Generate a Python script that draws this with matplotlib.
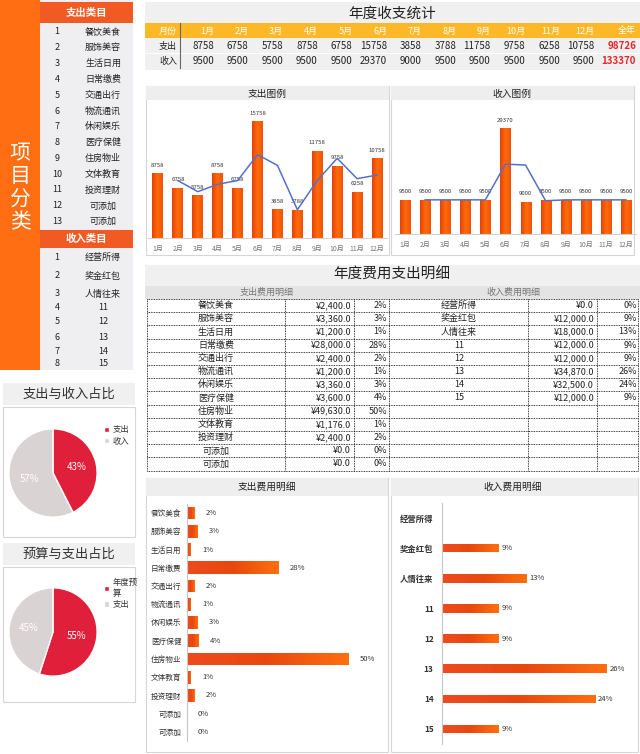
import numpy as np
import matplotlib.pyplot as plt
from matplotlib.colors import LinearSegmentedColormap
from matplotlib.patches import Rectangle

plt.rcParams['font.family'] = ['Noto Sans CJK SC', 'DejaVu Sans']

# ---- data ----
months = ['1月', '2月', '3月', '4月', '5月', '6月', '7月', '8月', '9月', '10月', '11月', '12月']
expense = [8758, 6758, 5758, 8758, 6758, 15758, 3858, 3788, 11758, 9758, 6258, 10758]
income = [9500, 9500, 9500, 9500, 9500, 29370, 9000, 9500, 9500, 9500, 9500, 9500]
expense_trend = [np.nan, 7758, 6258, 7258, 7758, 11258, 9808, 3823, 7773, 10758, 8008, 8508]
income_trend = [np.nan, 9500, 9500, 9500, 9500, 19435, 19185, 9250, 9500, 9500, 9500, 9500]

exp_cats = ['餐饮美食', '服饰美容', '生活日用', '日常缴费', '交通出行', '物流通讯', '休闲娱乐',
            '医疗保健', '住房物业', '文体教育', '投资理财', '可添加', '可添加']
exp_amounts = [2400, 3360, 1200, 28000, 2400, 1200, 3360, 3600, 49630, 1176, 2400, 0, 0]
inc_cats = ['经营所得', '奖金红包', '人情往来', '11', '12', '13', '14', '15']
inc_amounts = [0, 12000, 18000, 12000, 12000, 34870, 32500, 12000]

pie1_labels = ['支出', '收入']
pie1_values = [98726, 133370]
pie2_labels = ['年度预\n算', '支出']
pie2_values = [55, 45]

W, H = 640, 754
fig = plt.figure(figsize=(6.4, 7.54), dpi=100)
bg = fig.add_axes([0, 0, 1, 1])
bg.set_xlim(0, W)
bg.set_ylim(H, 0)
bg.axis('off')

ORANGE = '#FF6E12'
HEAD = '#F15A22'
GOLD = '#FDB827'
RED = '#E0203A'
GREY = '#DAD3D3'
cmap_v = LinearSegmentedColormap.from_list('v', ['#E8400A', '#FF6C0A', '#F25208'])
cmap_h = LinearSegmentedColormap.from_list('h', ['#EE4A1E', '#E8480E', '#FF6E10'])


def rect(x, y, w, h, fc='none', ec='none', lw=0, ls='-', z=1):
    bg.add_patch(Rectangle((x, y), w, h, fc=fc, ec=ec, lw=lw, ls=ls, zorder=z))


def txt(x, y, s, size=6.5, color='#222222', ha='center', **kw):
    bg.text(x, y, s, fontsize=size, color=color, ha=ha, va='center', zorder=5, **kw)


def px_axes(x, y, w, h):
    ax = fig.add_axes([x / W, 1 - (y + h) / H, w / W, h / H])
    ax.patch.set_alpha(0)
    return ax


def grad_fill(ax, bars, cmap):
    xl, yl = ax.get_xlim(), ax.get_ylim()
    g = np.linspace(0, 1, 64).reshape(1, -1)
    for b in bars:
        x0, y0 = b.get_xy()
        w, h = b.get_width(), b.get_height()
        if w == 0 or h == 0:
            continue
        im = ax.imshow(g, extent=[x0, x0 + w, y0, y0 + h], aspect='auto',
                       cmap=cmap, zorder=b.get_zorder() + 0.1, origin='lower')
        im.set_clip_path(b)
    ax.set_xlim(xl)
    ax.set_ylim(yl)


# ---- left category strip ----
rect(0, 0, 40, 370, fc=ORANGE)
for i, ch in enumerate('项目分类'):
    txt(20, 153 + i * 23, ch, size=15, color='white')
rect(40, 0, 93, 370, fc='#EFEFF2')
rect(40, 2, 93, 21, fc=HEAD)
txt(86, 13, '支出类目', size=7.5, color='white', weight='bold')
for i, name in enumerate(exp_cats):
    y = 32 + i * 15.8
    txt(57, y, str(i + 1))
    txt(103, y, name)
rect(40, 230, 93, 18, fc=HEAD)
txt(86, 239, '收入类目', size=7.5, color='white', weight='bold')
inc_rows = [257, 276, 294, 308, 322, 337, 351, 363]
for i, name in enumerate(inc_cats):
    txt(57, inc_rows[i], str(i + 1))
    txt(103, inc_rows[i], name)

# ---- top summary table ----
rect(145, 2, 495, 68, fc='#F0F0F0')
txt(392, 14, '年度收支统计', size=10.5, color='#222222')
rect(145, 23, 495, 15, fc=GOLD)
rect(145, 53, 495, 0.8, fc='white', z=2)
bg.plot([180, 180], [23, 68], color='#666666', lw=0.8, zorder=3)
txt(168, 31, '月份', size=6.5, color='white')
txt(168, 46, '支出', size=6.5)
txt(168, 61, '收入', size=6.5)
for i, m in enumerate(months):
    xr = 214 + 34.6 * i
    txt(xr, 31, m, size=6.5, color='white', ha='right')
    txt(xr, 46, str(expense[i]), size=7, ha='right')
    txt(xr, 61, str(income[i]), size=7, ha='right')
txt(636, 31, '全年', size=6.5, color='white', ha='right')
txt(636, 46, str(sum(expense)), size=7, color='#E8262B', ha='right', weight='bold')
txt(636, 61, str(sum(income)), size=7, color='#E8262B', ha='right', weight='bold')

# ---- monthly bar charts ----
for (px, title, vals, trend, ymax, bw, ax_box) in [
        (146, '支出图例', expense, expense_trend, 18500, 0.55, (148, 101, 239, 137)),
        (391, '收入图例', income, income_trend, 37000, 0.5, (395, 101, 241, 133))]:
    rect(px, 86, 243, 169, fc='white', ec='#D6D6D6', lw=0.8)
    rect(px, 86, 243, 14, fc='#EEEEEE')
    txt(px + 121, 94, title, size=7)
    ax = px_axes(*ax_box)
    x = np.arange(len(months))
    bars = ax.bar(x, vals, width=bw, color='#FF6A0A', zorder=2)
    ax.set_xlim(-0.5, 11.5)
    ax.set_ylim(0, ymax)
    grad_fill(ax, bars, cmap_v)
    ax.plot(x, trend, color='#5570C8', lw=1.1, zorder=4)
    ax.bar_label(bars, labels=[str(v) for v in vals], padding=4, fontsize=4.3, color='#333333')
    ax.set_xticks(x)
    ax.set_xticklabels(months, fontsize=5, color='#777777')
    ax.tick_params(length=0, pad=5)
    ax.set_yticks([])
    for s in ['top', 'right', 'left']:
        ax.spines[s].set_visible(False)
    ax.spines['bottom'].set_color('#D0D0D0')

# ---- detail table ----
rect(145, 265, 495, 21, fc='#F0F0F0')
txt(392, 275, '年度费用支出明细', size=10.5)
rect(145, 286, 495, 13, fc='#E4E4E4')
txt(267, 292, '支出费用明细', size=6.5, color='#777777')
txt(513, 292, '收入费用明细', size=6.5, color='#777777')
row_h = 13.2
top = 299
nrows = len(exp_cats)
exp_total = sum(exp_amounts)
inc_total = sum(inc_amounts)
for i in range(nrows + 1):
    y = top + i * row_h
    bg.plot([147, 638], [y, y], color='black', lw=0.6, ls=(0, (1, 1)), zorder=3)
for xv in [147, 285, 354, 389, 528, 597, 638]:
    bg.plot([xv, xv], [top, top + nrows * row_h], color='black', lw=0.6, ls=(0, (1, 1)), zorder=3)
for i, name in enumerate(exp_cats):
    y = top + (i + 0.5) * row_h
    txt(216, y, name)
    txt(351, y, '¥{:,.1f}'.format(exp_amounts[i]), ha='right')
    txt(387, y, '{:.0f}%'.format(exp_amounts[i] / exp_total * 100), ha='right')
for i, name in enumerate(inc_cats):
    y = top + (i + 0.5) * row_h
    txt(459, y, name)
    txt(594, y, '¥{:,.1f}'.format(inc_amounts[i]), ha='right')
    txt(637, y, '{:.0f}%'.format(inc_amounts[i] / inc_total * 100), ha='right')

# ---- horizontal bar charts ----
rect(146, 478, 242, 274, fc='white', ec='#D6D6D6', lw=0.8)
rect(146, 478, 242, 18, fc='#EEEEEE')
txt(267, 487, '支出费用明细', size=7)
ax = px_axes(187, 504, 196, 237)
exp_pct = [a / exp_total * 100 for a in exp_amounts]
y = np.arange(len(exp_cats))
bars = ax.barh(y, exp_pct, height=0.7, color='#F05A1A', zorder=2)
ax.set_ylim(12.5, -0.5)
ax.set_xlim(0, 61)
grad_fill(ax, bars, cmap_h)
ax.bar_label(bars, labels=['{:.0f}%'.format(p) for p in exp_pct], padding=8, fontsize=5.5, color='#333333')
ax.set_yticks(y)
ax.set_yticklabels(exp_cats, fontsize=5.5, color='#333333')
ax.tick_params(length=0, pad=4)
ax.set_xticks([])
for s in ['top', 'right', 'bottom']:
    ax.spines[s].set_visible(False)
ax.spines['left'].set_color('#C8C8C8')

rect(391, 478, 247, 274, fc='white', ec='#D6D6D6', lw=0.8)
rect(391, 478, 247, 18, fc='#EEEEEE')
txt(513, 487, '收入费用明细', size=7)
ax = px_axes(442, 503, 190, 241)
inc_pct = [a / inc_total * 100 for a in inc_amounts]
y = np.arange(len(inc_cats))
bars = ax.barh(y, inc_pct, height=0.28, color='#F05A1A', zorder=2)
ax.set_ylim(7.5, -0.5)
ax.set_xlim(0, 30.2)
grad_fill(ax, bars, cmap_h)
ax.bar_label(bars, labels=['' if p == 0 else '{:.0f}%'.format(p) for p in inc_pct],
             padding=2, fontsize=5.5, color='#333333')
ax.set_yticks(y)
ax.set_yticklabels(inc_cats, fontsize=6, color='#333333', weight='bold')
ax.tick_params(length=0, pad=6)
ax.set_xticks([])
for s in ['top', 'right', 'bottom']:
    ax.spines[s].set_visible(False)
ax.spines['left'].set_color('#C8C8C8')

# ---- pies ----
for (ty, title, box_y, box_h, cy, labels, vals, leg_y) in [
        (383, '支出与收入占比', 407, 130, 473, pie1_labels, pie1_values, 421),
        (543, '预算与支出占比', 567, 135, 632, pie2_labels, pie2_values, 574)]:
    rect(3, ty, 132, 22, fc='#F0F0F0')
    txt(69, ty + 11, title, size=9.5, color='#333333')
    rect(3, box_y, 132, box_h, fc='white', ec='#D6D6D6', lw=0.8)
    ax = px_axes(8, cy - 45, 90, 90)
    wedges, _, autotexts = ax.pie(vals, colors=[RED, GREY], startangle=90, counterclock=False,
                                  autopct='%.0f%%', pctdistance=0.55,
                                  wedgeprops=dict(edgecolor='white', linewidth=1),
                                  textprops=dict(color='white', fontsize=7))
    ax.set_xlim(-1.02, 1.02)
    ax.set_ylim(-1.02, 1.02)
    ax.legend(wedges, labels, loc='upper left', bbox_to_anchor=(100, leg_y),
              bbox_transform=bg.transData, frameon=False, fontsize=6,
              handlelength=0.6, handleheight=0.6, handletextpad=0.4,
              labelspacing=0.3, borderpad=0, labelcolor='#333333')

fig.savefig('out.png', dpi=100)
